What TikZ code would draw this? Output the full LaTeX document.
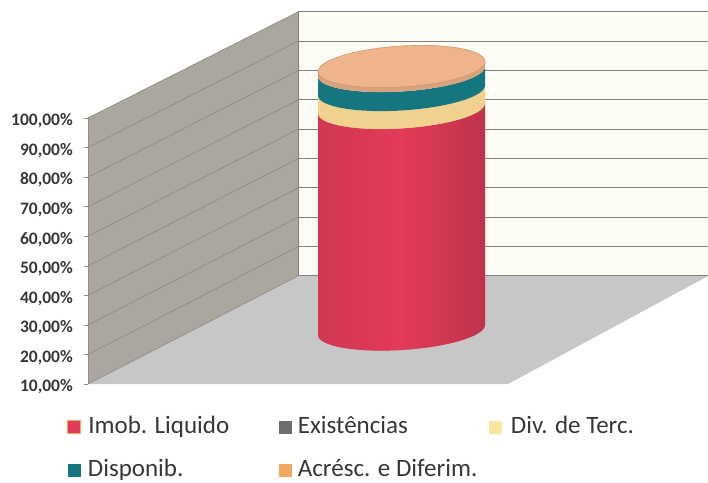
\documentclass[tikz,border=0pt]{standalone}
\usepackage{fontspec}
\setmainfont{Carlito}
\usetikzlibrary{positioning}
\definecolor{wallL}{RGB}{171,166,158}
\definecolor{gridL}{RGB}{145,140,133}
\definecolor{wallB}{RGB}{253,252,244}
\definecolor{gridB}{RGB}{128,128,128}
\definecolor{floorC}{RGB}{199,199,199}
\definecolor{imob}{RGB}{226,60,90}
\definecolor{divt}{RGB}{242,208,142}
\definecolor{dispo}{RGB}{22,118,128}
\definecolor{acresc}{RGB}{240,180,140}
\definecolor{acrkey}{RGB}{240,168,96}
\definecolor{divkey}{RGB}{247,230,160}
\definecolor{exist}{RGB}{110,110,110}
\definecolor{txt}{RGB}{55,55,55}
\tikzset{
    x=1pt, y=1pt,                               % one unit is one pixel of the chart
    axislabel/.style={anchor=east, inner sep=0pt, text=txt, font=\fontsize{17.5}{20}\selectfont\bfseries},
    key/.style={minimum size=13pt, inner sep=0pt},   % the small legend squares
    keytext/.style={inner sep=0pt, text=txt, text height=16pt, text depth=3pt, font=\fontsize{25}{30}\selectfont},
    cylr/.style={x radius=83.5, y radius=20},
}

\begin{document}
\begin{tikzpicture}
\useasboundingbox (0,0) rectangle (708,482);

% walls and floor
\fill[wallB] (298,206) rectangle (708,470);
\fill[wallL] (88,98) -- (88,364) -- (298,470) -- (298,206) -- cycle;
\fill[floorC] (88,98) -- (298,206) -- (708,206) -- (508,98) -- cycle;
\foreach \k in {0,...,9}{
  \draw[gridL, line width=0.7pt] (88,364-29.56*\k) -- (298,470-29.33*\k);
  \draw[gridB, line width=1pt] (298,470-29.33*\k) -- (708,470-29.33*\k);
  \draw[gridL] (84,364-29.56*\k) -- (88,364-29.56*\k);
  \pgfmathtruncatemacro\pct{100-10*\k}
  \node[axislabel] (lab\k) at (73,361-29.56*\k) {\pct,00\%};
}
\draw[gridB] (298,206) -- (298,470);
\draw[gridL] (88,98) -- (88,364);

% the cylinder
\begin{scope}[shift={(401.5,415.5)}, yslant=0.06]
\foreach \ya/\yb/\c in {-42/-263.5/imob, -24/-42/divt, -5/-24/dispo, 0/-5/acresc!90!black}{
  \fill[\c] (-83.5,\ya) -- (-83.5,\yb) arc[start angle=180, end angle=360, cylr]
    -- (83.5,\ya) arc[start angle=0, end angle=-180, cylr] -- cycle;
}
\shade[left color=imob!85!black, right color=imob!70!black, middle color=imob, opacity=0.5]
  (-83.5,-42) -- (-83.5,-263.5) arc[start angle=180, end angle=360, cylr]
  -- (83.5,-42) arc[start angle=0, end angle=-180, cylr] -- cycle;
\filldraw[fill=acresc, draw=acresc!85!black, line width=0.6pt] (0,0) ellipse[x radius=83.5, y radius=20.5];
\end{scope}

% legend
\node[key, fill=imob, draw=acrkey, line width=1.2pt] (kImob) at (74,55) {};
\node[keytext, right=7pt of kImob] (tImob) {Imob. Liquido};
\node[key, fill=exist] (kExist) at (285,55) {};
\node[keytext, right=6pt of kExist] (tExist) {Existências};
\node[key, fill=divkey] (kDiv) at (495,55) {};
\node[keytext, right=9pt of kDiv] (tDiv) {Div. de Terc.};
\node[key, fill=dispo] (kDispo) at (74,12) {};
\node[keytext, right=7pt of kDispo] (tDispo) {Disponib.};
\node[key, fill=acrkey] (kAcresc) at (285,12) {};
\node[keytext, right=6pt of kAcresc] (tAcresc) {Acrésc. e Diferim.};

\end{tikzpicture}
\end{document}
